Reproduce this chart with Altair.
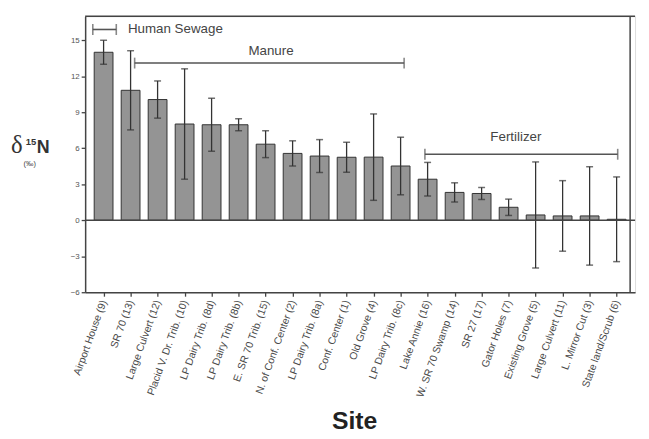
import json
import altair as alt
import pandas as pd

# ---- data ----
sites = ["Airport House (9)", "SR 70 (13)", "Large Culvert (12)", "Placid V. Dr. Trib. (10)",
         "LP Dairy Trib. (8d)", "LP Dairy Trib. (8b)", "E. SR 70 Trib. (15)", "N. of Conf. Center (2)",
         "LP Dairy Trib. (8a)", "Conf. Center (1)", "Old Grove (4)", "LP Dairy Trib. (8c)",
         "Lake Annie (16)", "W. SR 70 Swamp (14)", "SR 27 (17)", "Gator Holes (7)",
         "Existing Grove (5)", "Large Culvert (11)", "L. Mirror Cut (3)", "State land/Scrub (6)"]
d15n = [14.0, 10.83, 10.06, 8.02, 7.96, 7.96, 6.34, 5.57, 5.35, 5.25,
        5.26, 4.52, 3.42, 2.32, 2.23, 1.08, 0.44, 0.36, 0.36, 0.08]
err = [1.0, 3.3, 1.55, 4.6, 2.2, 0.5, 1.12, 1.05, 1.37, 1.25,
       3.6, 2.4, 1.4, 0.8, 0.5, 0.68, 4.42, 2.94, 4.1, 3.53]

group_names = ["Human Sewage", "Manure", "Fertilizer"]
group_start = [-0.4, 1.15, 11.9]
group_end = [0.47, 11.13, 19.04]
group_y = [15.9, 13.1, 5.5]
label_x = [0.9, 6.2, 15.27]
label_y = [15.9, 14.1, 6.97]
label_align = ["left", "center", "center"]

y_ticks = [-6, -3, 0, 3, 6, 9, 12, 15]

df = pd.DataFrame({"idx": list(range(len(sites))), "site": sites, "v": d15n, "e": err})
df["lo"] = df["v"] - df["e"]
df["hi"] = df["v"] + df["e"]

gdf = pd.DataFrame({"name": group_names, "x1": group_start, "x2": group_end, "y": group_y,
                    "lx": label_x, "ly": label_y, "al": label_align})

W, H = 556, 279
FONT = "Liberation Sans"
DARK = "#444444"

xscale = alt.Scale(domain=[-0.5, 19.5], nice=False, zero=False)
yscale = alt.Scale(domain=[-6, 17], nice=False, zero=False)

label_expr = json.dumps(sites) + "[datum.value]"

xaxis = alt.Axis(values=list(range(len(sites))), labelExpr=label_expr, labelAngle=-70,
                 labelAlign="right", labelBaseline="middle", labelFontSize=10.5,
                 labelColor="#4a4a4a", labelFont=FONT, labelPadding=4, tickSize=4,
                 labelOverlap=False, labelFlush=False,
                 tickColor=DARK, tickWidth=1.3, domainColor=DARK, domainWidth=1.5,
                 grid=False, title="Site", titleFontSize=25, titleFont=FONT,
                 titleFontWeight="bold", titleColor="#222222", titleX=272, titleY=138,
                 titleBaseline="alphabetic")
yaxis = alt.Axis(values=y_ticks, labelFontSize=8, labelColor="#555555", labelFont=FONT,
                 labelOverlap=False, labelFlush=False,
                 tickSize=4, tickColor=DARK, tickWidth=1.3, domainColor=DARK,
                 domainWidth=1.5, grid=False, title=None, labelPadding=2)


def X(field):
    return alt.X(field, type="quantitative", scale=xscale, axis=xaxis)


def Y(field):
    return alt.Y(field, type="quantitative", scale=yscale, axis=yaxis)


base = alt.Chart(df)

bars = base.mark_bar(size=19, fill="#949494", stroke="#333333", strokeWidth=1).encode(
    x=X("idx"), y=Y("v"))

whisk = base.mark_rule(color="#333333", strokeWidth=1.3).encode(
    x=X("idx"), y=Y("lo"), y2="hi:Q")
cap_hi = base.mark_tick(orient="horizontal", size=7, thickness=1.5, color="#333333").encode(
    x=X("idx"), y=Y("hi"))
cap_lo = base.mark_tick(orient="horizontal", size=7, thickness=1.5, color="#333333").encode(
    x=X("idx"), y=Y("lo"))

zero = alt.Chart(pd.DataFrame({"z": [0]})).mark_rule(color=DARK, strokeWidth=1.3).encode(y=Y("z"))

# frame (top and right edges)
frame_top = alt.Chart(pd.DataFrame({"z": [17]})).mark_rule(color=DARK, strokeWidth=1.5).encode(y=Y("z"))
frame_right = alt.Chart(pd.DataFrame({"z": [19.5]})).mark_rule(color=DARK, strokeWidth=1.5).encode(x=X("z"))

gbase = alt.Chart(gdf)
brk = gbase.mark_rule(color="#555555", strokeWidth=1.6).encode(x=X("x1"), x2="x2:Q", y=Y("y"))
brk_l = gbase.mark_tick(orient="vertical", size=11, thickness=1.6, color="#555555").encode(
    x=X("x1"), y=Y("y"))
brk_r = gbase.mark_tick(orient="vertical", size=11, thickness=1.6, color="#555555").encode(
    x=X("x2"), y=Y("y"))
glab_l = alt.Chart(gdf[gdf["al"] == "left"]).mark_text(
    align="left", baseline="middle", fontSize=13.5, font=FONT, color="#444444").encode(
    x=X("lx"), y=Y("ly"), text="name:N")
glab_c = alt.Chart(gdf[gdf["al"] == "center"]).mark_text(
    align="center", baseline="middle", fontSize=13.5, font=FONT, color="#444444").encode(
    x=X("lx"), y=Y("ly"), text="name:N")

one = alt.Chart(pd.DataFrame({"k": [0]}))
t_delta = one.mark_text(align="left", baseline="alphabetic", fontSize=25,
                        font="Liberation Serif", color="#333333").encode(
    x=alt.value(-75), y=alt.value(138), text=alt.value("δ"))
t_15 = one.mark_text(align="left", baseline="alphabetic", fontSize=9.5, fontWeight="bold",
                     font=FONT, color="#333333").encode(
    x=alt.value(-60), y=alt.value(130), text=alt.value("15"))
t_N = one.mark_text(align="left", baseline="alphabetic", fontSize=18, fontWeight="bold",
                    font=FONT, color="#333333").encode(
    x=alt.value(-49), y=alt.value(138), text=alt.value("N"))
t_pm = one.mark_text(align="center", baseline="middle", fontSize=7.5,
                     font=FONT, color="#444444").encode(
    x=alt.value(-56), y=alt.value(149), text=alt.value("(‰)"))

chart = alt.layer(bars, whisk, cap_hi, cap_lo, zero, frame_top, frame_right,
                  brk, brk_l, brk_r, glab_l, glab_c,
                  t_delta, t_15, t_N, t_pm).properties(
    width=W, height=H,
    autosize=alt.AutoSizeParams(type="none"),
    padding={"left": 78, "top": 6, "right": 6, "bottom": 144},
).configure_view(stroke=DARK, strokeWidth=1.5).configure(background="white")

chart.save("out.html", embed_options={"renderer": "svg", "actions": False})
